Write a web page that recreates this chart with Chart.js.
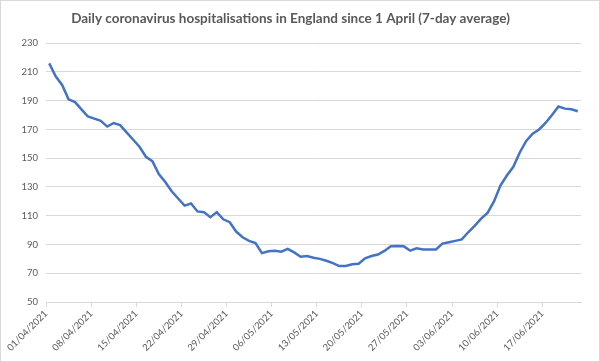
<!DOCTYPE html>
<html>
<head>
<meta charset="utf-8">
<script src="https://cdn.jsdelivr.net/npm/chart.js@4"></script>
<style>
  html, body { margin: 0; padding: 0; background: #fff; }
</style>
</head>
<body>
<canvas id="hospCanvas" width="600" height="362"></canvas>
<script>
// tick labels, one every 7 days starting 01/04/2021
const tickLabels = ["01/04/2021","08/04/2021","15/04/2021","22/04/2021","29/04/2021","06/05/2021",
  "13/05/2021","20/05/2021","27/05/2021","03/06/2021","10/06/2021","17/06/2021"];

// 7-day average, 01/04/2021 .. 22/06/2021 (one value per day)
const hospitalisations = [
  216, 207, 201, 191, 189, 184, 179, 177.5, 176, 172,
  174.5, 173, 168, 163, 158, 151, 148, 139, 133.5, 127,
  122, 117, 118.5, 113, 112.5, 109, 112.5, 107.5, 105.5, 99,
  95, 92.5, 91, 84, 85.3, 85.6, 85, 87, 84.5, 81.5,
  82, 80.8, 80, 78.7, 77, 75, 75, 76.3, 76.6, 80.4,
  82, 83, 85.5, 88.8, 88.9, 88.7, 85.7, 87.3, 86.6, 86.6,
  86.6, 90.6, 91.6, 92.5, 93.5, 98.5, 103, 108, 112, 120,
  131, 138, 144, 154, 162, 167, 170, 174.5, 180, 186,
  184.5, 184, 182.7
];

const grey = "#595959";
const gridGrey = "#d9d9d9";

// points sit in the middle of each day slot, like excel's "between tick marks"
var points = [];
for (let i = 0; i < hospitalisations.length; i++) {
  points.push({x: i + 0.5, y: hospitalisations[i]});
}

const framePlugin = {
  id: "frame",
  afterDraw(chart) {
    const ctx = chart.ctx;
    ctx.save();
    ctx.strokeStyle = gridGrey;
    ctx.lineWidth = 1;
    ctx.strokeRect(0.5, 0.5, chart.width - 1, chart.height - 1);
    ctx.restore();
  }
};

new Chart(document.getElementById("hospCanvas"), {
  type: "line",
  data: {
    datasets: [{
      data: points,
      borderColor: "#4472C4",
      borderWidth: 2.5,
      pointRadius: 0,
      fill: false,
      tension: 0
    }]
  },
  options: {
    responsive: false,
    animation: false,
    layout: {padding: {left: 0, right: 19, top: 0, bottom: 0}},
    plugins: {
      legend: {display: false},
      tooltip: {enabled: false},
      title: {
        display: true,
        text: "Daily coronavirus hospitalisations in England since 1 April (7-day average)",
        color: grey,
        font: {family: "Lato", size: 13.5, weight: "bold"},
        padding: {top: 11, bottom: 16}
      }
    },
    scales: {
      x: {
        type: "linear",
        min: 0,
        max: hospitalisations.length,
        afterFit: function(scale) { scale.height = 60; },
        grid: {drawOnChartArea: false, drawTicks: true, tickLength: 5, color: gridGrey},
        border: {color: gridGrey},
        ticks: {
          stepSize: 7,
          includeBounds: false,
          autoSkip: false,
          maxRotation: 45,
          minRotation: 45,
          padding: 1,
          color: grey,
          font: {family: "Lato", size: 9.5},
          callback: function(v) { return tickLabels[v / 7]; }
        }
      },
      y: {
        min: 50,
        max: 230,
        afterFit: function(scale) { scale.width = 46; },
        grid: {color: gridGrey, drawTicks: false},
        border: {display: false},
        ticks: {stepSize: 20, padding: 8, color: grey, font: {family: "Lato", size: 9.5}}
      }
    }
  },
  plugins: [framePlugin]
});
</script>
</body>
</html>
